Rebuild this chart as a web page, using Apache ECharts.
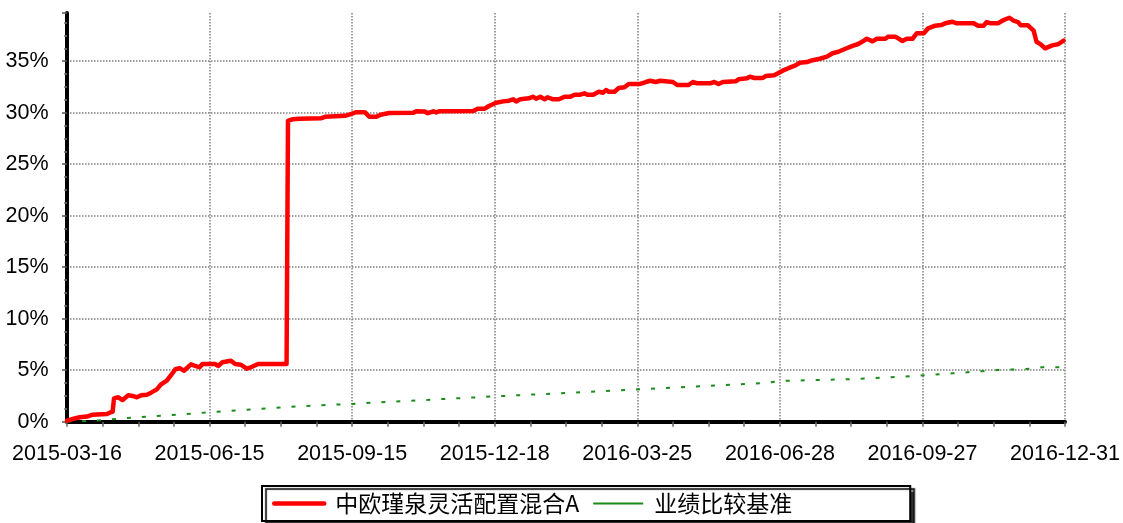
<!DOCTYPE html>
<html>
<head>
<meta charset="utf-8">
<script src="https://cdn.jsdelivr.net/npm/echarts@6/dist/echarts.min.js"></script>
<style>
html,body{margin:0;padding:0;background:#fff;}
#chart{width:1123px;height:523px;}
</style>
</head>
<body>
<div id="chart"></div>
<script>
// x tick labels (one every 100 index units)
const xTickLabels = ['2015-03-16','2015-06-15','2015-09-15','2015-12-18','2016-03-25','2016-06-28','2016-09-27','2016-12-31'];
const seriesNames = ['中欧瑾泉灵活配置混合A','业绩比较基准'];

// fund cumulative return (%), [index, value]
const fundData = [
[0,0.1],[4,0.26],[9,0.43],[14,0.5],[18,0.68],[28,0.75],[30,0.87],[32,0.97],[33,2.27],[36,2.37],
[39,2.1],[43,2.56],[46,2.5],[49,2.37],[52,2.56],[56,2.62],[59,2.82],[63,3.14],[66,3.63],[70,3.98],
[73,4.53],[76,5.09],[79,5.21],[82,4.95],[87,5.57],[90,5.41],[93,5.28],[95,5.6],[104,5.6],[106,5.41],
[109,5.77],[115,5.92],[118,5.6],[122,5.53],[126,5.15],[129,5.28],[134,5.6],[154,5.6],[155,29.2],
[158,29.36],[163,29.42],[178,29.45],[181,29.6],[195,29.7],[199,29.87],[203,30.05],[209,30.05],[212,29.6],
[217,29.6],[220,29.8],[226,29.97],[243,29.99],[245,30.15],[251,30.12],[253,29.95],[257,30.14],[259,30.02],
[261,30.14],[285,30.17],[288,30.38],[293,30.39],[296,30.65],[301,30.97],[306,31.1],[310,31.17],[313,31.3],
[315,31.1],[318,31.3],[324,31.4],[327,31.55],[329,31.36],[332,31.55],[335,31.3],[337,31.5],[341,31.3],
[345,31.3],[349,31.55],[353,31.55],[356,31.75],[360,31.75],[363,31.88],[365,31.75],[369,31.75],[373,32.04],
[376,31.94],[378,32.2],[380,32.04],[384,32.04],[387,32.4],[391,32.47],[394,32.79],[402,32.79],[406,32.98],
[409,33.1],[413,32.98],[416,33.1],[425,32.98],[428,32.69],[436,32.69],[439,32.98],[442,32.85],[451,32.85],
[454,32.98],[457,32.79],[460,32.98],[469,33.05],[471,33.24],[477,33.34],[479,33.5],[482,33.37],[488,33.37],
[490,33.56],[496,33.63],[499,33.85],[502,34.08],[506,34.32],[511,34.6],[514,34.85],[519,34.92],[523,35.1],
[528,35.24],[533,35.44],[537,35.77],[541,35.92],[546,36.21],[551,36.48],[555,36.67],[559,37.0],[561,37.18],
[565,36.93],[568,37.18],[574,37.18],[576,37.38],[581,37.38],[583,37.22],[586,36.96],[589,37.18],[593,37.18],
[596,37.71],[601,37.71],[604,38.19],[609,38.45],[613,38.51],[616,38.68],[621,38.83],[624,38.68],[636,38.68],
[639,38.45],[643,38.45],[645,38.8],[648,38.68],[653,38.68],[657,39.0],[661,39.22],[664,38.93],[667,38.8],
[669,38.48],[674,38.48],[678,37.96],[680,36.89],[683,36.64],[686,36.25],[691,36.54],[695,36.64],[699,36.99]
];

// benchmark cumulative return (%), [index, value]
const benchData = [
[0,0.0],[6,0.02],[26,0.16],[37,0.3],[57,0.5],[78,0.7],[99,0.9],[120,1.1],[141,1.3],[161,1.48],
[183,1.63],[204,1.75],[214,1.85],[299,2.45],[398,3.12],[492,3.78],[499,3.95],[548,4.12],[578,4.31],
[601,4.5],[621,4.7],[641,4.89],[653,5.02],[673,5.12],[684,5.28],[700,5.3]
];

const chart = echarts.init(document.getElementById('chart'), null, {renderer:'canvas'});
const font = "'Liberation Sans', Arial, sans-serif";
chart.setOption({
  animation:false,
  backgroundColor:'#ffffff',
  grid:{left:67, right:56.3, top:13, bottom:101.3, containLabel:false},
  xAxis:{
    type:'value', min:0, max:700, interval:100, offset:2,
    axisLine:{show:true, lineStyle:{color:'#000', width:4}},
    axisTick:{show:true, length:5, lineStyle:{color:'#666', width:1.5}},
    minorTick:{show:true, splitNumber:4, length:5, lineStyle:{color:'#666', width:1.5}},
    axisLabel:{margin:19, color:'#000', fontSize:21.5, fontFamily:font,
      formatter:function(v){ return xTickLabels[Math.round(v/100)] || ''; }},
    splitLine:{show:true, lineStyle:{color:'#808080', width:1.5, type:'dotted'}},
    minorSplitLine:{show:false}
  },
  yAxis:{
    type:'value', min:0, max:39.68, interval:5, offset:4.5,
    axisLine:{show:true, lineStyle:{color:'#000', width:4}},
    axisTick:{show:true, length:5, lineStyle:{color:'#555', width:1.5}},
    minorTick:{show:true, splitNumber:4, length:3, lineStyle:{color:'#777', width:1.5}},
    axisLabel:{margin:14, color:'#000', fontSize:21.5, fontFamily:font, showMaxLabel:false,
      formatter:function(v){ return (Math.abs(v/5-Math.round(v/5))<1e-6) ? (Math.round(v)+'%') : ''; }},
    splitLine:{show:true, showMaxLine:false, lineStyle:{color:'#808080', width:1.5, type:'dotted'}}
  },
  legend:{
    show:true, left:262, top:486,
    orient:'horizontal',
    padding:[5,118,5,10],
    itemGap:13,
    itemWidth:50, itemHeight:14,
    borderColor:'#000', borderWidth:2,
    backgroundColor:'#fff',
    shadowColor:'rgba(0,0,0,0.8)', shadowBlur:1, shadowOffsetX:4, shadowOffsetY:3,
    itemStyle:{opacity:0},
    textStyle:{fontFamily:"'Noto Sans CJK SC', sans-serif", fontSize:23, color:'#000', lineHeight:25, padding:[0,0,0,6]},
    data:[
      {name:seriesNames[0], lineStyle:{type:'solid', width:4.5, color:'#ff0000', opacity:1}},
      {name:seriesNames[1], lineStyle:{type:'solid', width:2, color:'#1a8c1a', opacity:1}}
    ]
  },
  series:[
    {name:seriesNames[0], type:'line', data:fundData, symbol:'none', showSymbol:false,
     lineStyle:{color:'#ff0000', width:4.5, join:'round', cap:'round'}, itemStyle:{color:'#ff0000'}, z:3},
    {name:seriesNames[1], type:'line', data:benchData, symbol:'none', showSymbol:false,
     lineStyle:{color:'#1a8c1a', width:2, type:[4,11]}, itemStyle:{color:'#1a8c1a'}, z:2}
  ]
});
</script>
</body>
</html>
